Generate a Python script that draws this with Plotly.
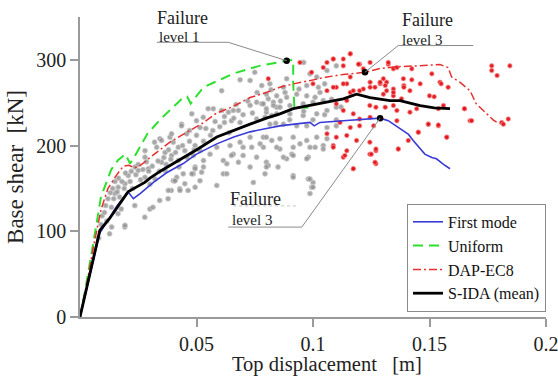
import plotly.graph_objects as go

# Pushover curves (top displacement [m], base shear [kN])
first_mode_x = [0, 0.004, 0.0085, 0.012, 0.016, 0.0206, 0.0229, 0.0258, 0.0315, 0.037, 0.0443, 0.05,
                0.0587, 0.066, 0.073, 0.08, 0.0858, 0.092, 0.0987, 0.1005, 0.103, 0.113, 0.121, 0.1288,
                0.1323, 0.1355, 0.1388, 0.141, 0.143, 0.145, 0.147, 0.148, 0.151, 0.153, 0.156, 0.1588]
first_mode_y = [0, 46, 98, 113, 130, 146, 138, 144, 157, 168, 179, 190,
                202, 210, 216, 220, 223, 225, 227, 223, 227, 229, 230.5, 232,
                229, 223, 217.6, 213, 206, 200, 194, 190, 186, 184.6, 178, 173]

uniform_x = [0, 0.002, 0.005, 0.009, 0.0134, 0.0163, 0.0195, 0.0215, 0.024, 0.029, 0.035, 0.0443,
             0.046, 0.0475, 0.0495, 0.053, 0.0658, 0.077, 0.0887, 0.0915, 0.0915, 0.092, 0.098]
uniform_y = [0, 28, 75, 140, 172, 183, 190, 179, 190, 214, 232, 256,
             257, 249, 256, 268, 284, 293, 299, 300, 272, 245, 244]

dap_x = [0, 0.003, 0.006, 0.009, 0.012, 0.0155, 0.0186, 0.021, 0.0235, 0.026, 0.03, 0.0329, 0.0386,
         0.0458, 0.052, 0.0587, 0.066, 0.073, 0.08, 0.0858, 0.0916, 0.099, 0.106, 0.113, 0.12, 0.1223,
         0.1288, 0.136, 0.145, 0.1545, 0.158, 0.1595, 0.163, 0.1674, 0.17, 0.173, 0.1773, 0.18]
dap_y = [0, 40, 85, 125, 150, 165, 176, 177, 174, 177, 186, 192, 204,
         215.6, 225, 238, 246, 256, 262, 268, 272, 276, 280, 283, 285, 285.5,
         290, 292, 293, 294.5, 291, 280, 274, 264, 249, 241, 230, 225]

sida_x = [0, 0.004, 0.0085, 0.0127, 0.0206, 0.0278, 0.03, 0.035, 0.042, 0.0506, 0.0587, 0.066, 0.073,
          0.08, 0.0858, 0.0915, 0.099, 0.106, 0.113, 0.1187, 0.1245, 0.133, 0.1373, 0.146, 0.152, 0.1588]
sida_y = [0, 48, 101, 115, 146, 157, 162, 171, 182, 196, 210, 218, 225,
          232, 237, 243, 247, 250.6, 254.5, 260, 256, 252.5, 252.5, 246.7, 244, 243]

# Failure points
fail_x = [0.0887, 0.1223, 0.1288]
fail_y = [299, 285.5, 232]

# S-IDA single-record points (before / after the 0.09 m region)
gray_x = [0.0687, 0.0608, 0.073, 0.075, 0.0572, 0.0608, 0.0637, 0.0658, 0.068, 0.055, 0.073, 0.0758,
          0.078, 0.0808, 0.083, 0.0844, 0.0529, 0.050, 0.0515, 0.047, 0.0436, 0.0458, 0.057, 0.062,
          0.065, 0.0687, 0.0758, 0.0794, 0.0823, 0.0386, 0.0343, 0.0329, 0.0365, 0.040, 0.0422, 0.0515,
          0.0587, 0.0644, 0.0687, 0.073, 0.0787, 0.0823, 0.0658, 0.070, 0.0758, 0.080, 0.063, 0.053,
          0.0486, 0.0443, 0.0415, 0.040, 0.0515, 0.0615, 0.073, 0.0794, 0.085, 0.0587,
          0.0486, 0.053, 0.0558, 0.0494, 0.0522, 0.0615, 0.065, 0.068, 0.063, 0.070, 0.0737, 0.0773,
          0.0808, 0.0744, 0.0858, 0.0909, 0.0887, 0.0944, 0.098, 0.0915, 0.098, 0.1, 0.0994, 0.0987,
          0.1009, 0.1044,
          0.0192, 0.0127, 0.0278, 0.030, 0.0313, 0.0163, 0.0177, 0.0235, 0.0342, 0.0378, 0.0392, 0.0428,
          0.0464, 0.0406, 0.030, 0.0136, 0.0193,
          0.048, 0.0436, 0.0393, 0.035, 0.032, 0.0279, 0.0279, 0.0236, 0.025, 0.0293, 0.035, 0.0393,
          0.0422, 0.045, 0.0494, 0.0365, 0.0322, 0.0279, 0.0207, 0.0193, 0.0164, 0.015, 0.0408, 0.045,
          0.048, 0.0494, 0.0429, 0.0379, 0.0494,
          0.096, 0.0987, 0.1016, 0.106, 0.110, 0.0973, 0.1023, 0.105, 0.0887, 0.0873, 0.0815, 0.080,
          0.0844, 0.0887, 0.093, 0.0973, 0.1009, 0.0787, 0.083, 0.0858, 0.0901, 0.0958, 0.100, 0.1044,
          0.106, 0.110, 0.1016, 0.0958, 0.0901, 0.0844, 0.080, 0.0815, 0.0873, 0.093, 0.0973, 0.106,
          0.110, 0.080, 0.0858, 0.0915, 0.0973, 0.1016, 0.106, 0.0787, 0.0844, 0.0915, 0.0987, 0.1044,
          0.0873, 0.0915, 0.0973, 0.080, 0.0915, 0.0987, 0.1,
          0.008, 0.009, 0.0095, 0.0105, 0.011, 0.0115, 0.012, 0.013, 0.0135, 0.014, 0.0145, 0.015,
          0.016, 0.0165, 0.017, 0.018, 0.019, 0.0195, 0.0215, 0.022, 0.0225, 0.024, 0.025, 0.026,
          0.027, 0.0285, 0.0295, 0.031, 0.0335, 0.034, 0.036, 0.037, 0.038, 0.039, 0.041, 0.0425,
          0.044, 0.046, 0.047, 0.049, 0.05, 0.053, 0.054, 0.056, 0.058, 0.06, 0.062, 0.064,
          0.066, 0.067, 0.07, 0.072, 0.074, 0.076, 0.078, 0.08, 0.082, 0.084, 0.086, 0.088,
          0.09, 0.094, 0.096, 0.1, 0.103, 0.105, 0.108, 0.11, 0.112]
gray_y = [276.7, 264, 276, 285.5, 243, 241, 239, 241, 241, 243, 247, 250.6,
          248.7, 254.5, 250.6, 244.8, 233, 229, 221, 217.6, 225, 213.7, 217.6, 227,
          229, 227, 231, 233, 235, 209.8, 208, 198, 192, 204, 198, 194,
          198, 200, 204, 209.8, 209.8, 206, 190, 188.5, 186.5, 180.6, 178.8, 175,
          167, 167, 163, 159, 159, 167, 175, 167, 175, 153.5,
          188.5, 182.6, 190, 175, 169, 182.6, 188.5, 180.6, 167, 198, 198, 202,
          176.8, 157, 196, 190, 184.6, 202, 186.5, 165, 161, 157, 151.5, 144,
          198, 200,
          105, 97, 116.5, 126, 128, 120.5, 126, 130, 136, 138, 147.7, 149.6,
          147.7, 159, 155, 105, 107,
          237, 223, 213.7, 206, 204, 194, 186.5, 175, 171, 173, 180.6, 188.5,
          182.6, 194, 200, 171, 161, 163, 165, 155.5, 151.5, 144, 159, 155.5,
          167, 151.5, 147.7, 147.7, 173,
          297, 283.7, 280, 287.5, 293, 270, 268, 272, 278, 268, 272, 260,
          258, 256.4, 260, 258, 256.4, 248.7, 246.7, 244.8, 246.7, 248.7, 250.6, 252.5,
          241, 244.8, 237, 235, 237, 237, 239, 225, 225, 223, 223, 221,
          223, 209.8, 208, 209.8, 206, 209.8, 208, 198, 198, 198, 198, 196,
          186.5, 188.5, 184.6, 175, 163, 161, 151.5,
          92, 108, 118, 122, 130, 112, 138, 145, 128, 150, 138, 158,
          146, 162, 140, 158, 150, 168, 158, 170, 150, 166, 178, 160,
          172, 181, 170, 176, 182, 170, 186, 178, 195, 184, 192, 175,
          200, 186, 205, 195, 212, 205, 220, 212, 228, 222, 234, 215,
          232, 248, 236, 252, 238, 262, 270, 243, 265, 226, 252, 262,
          230, 266, 240, 230, 262, 236, 254, 230, 245]

red_x = [0.0808, 0.1087,
         0.0944, 0.0994, 0.1044, 0.106, 0.1087, 0.116, 0.120, 0.1216, 0.113, 0.100, 0.106, 0.110,
         0.1145, 0.116, 0.120, 0.1245, 0.1288, 0.1316, 0.1145, 0.110, 0.1244, 0.127, 0.113, 0.1173,
         0.120, 0.1245, 0.1116, 0.116, 0.120, 0.126, 0.106, 0.110, 0.1145, 0.1187, 0.1087, 0.1145,
         0.1244, 0.127, 0.113, 0.1173, 0.127,
         0.1323, 0.1345, 0.1424, 0.1302, 0.1316, 0.1388, 0.1424, 0.151, 0.139, 0.146, 0.1545, 0.155,
         0.158, 0.1345, 0.1416, 0.150, 0.152, 0.1302, 0.1345, 0.138, 0.131, 0.1345, 0.136, 0.1416,
         0.1445, 0.1538, 0.156, 0.165, 0.136, 0.1674, 0.1495, 0.1538, 0.1452, 0.1574, 0.1366, 0.1767,
         0.1845, 0.1767, 0.179, 0.181, 0.1838, 0.1817,
         0.1137, 0.1173, 0.1244, 0.125, 0.1266, 0.127, 0.1366, 0.1409, 0.1452, 0.1495, 0.1538, 0.1574,
         0.165, 0.1681,
         0.1087, 0.113, 0.116, 0.1195, 0.1245, 0.1323, 0.136, 0.1288, 0.131, 0.1266, 0.1245, 0.116,
         0.113, 0.1087, 0.1173, 0.1216, 0.1345, 0.139]
red_y = [278, 200,
         297, 285.5, 291, 297, 301, 307, 295, 289.5, 293, 272, 264, 268,
         272, 262, 264, 268, 272, 264, 252.5, 248.7, 246.7, 244.8, 241, 237,
         231, 233, 227, 221, 223, 223, 213.7, 209.8, 211.8, 206, 198, 194,
         190, 194, 186.5, 173, 178.8,
         295, 289.5, 289.5, 278, 274, 278, 276.7, 283.7, 270, 272, 274, 272,
         268, 266, 264, 258, 257, 260, 258, 254.5, 244.8, 246.7, 241, 239,
         243, 243, 246.7, 243, 229, 229, 225, 223, 215.6, 209.8, 196, 293,
         293, 287.5, 281.7, 227, 231, 225,
         188.5, 173, 204, 190, 180.6, 196, 196, 206, 215.6, 225, 224, 209.8,
         243, 229,
         301, 301, 307, 295, 297, 297, 291, 274, 270, 268, 274, 280,
         272, 268, 264, 266, 262, 268]

SERIF = "Liberation Serif, Times New Roman, serif"

fig = go.Figure()

fig.add_trace(go.Scatter(
    x=gray_x, y=gray_y, mode="markers", showlegend=False, hoverinfo="skip",
    marker=dict(size=5, color="rgba(145,145,145,0.8)",
                line=dict(width=1, color="rgba(205,205,205,0.8)"))))
fig.add_trace(go.Scatter(
    x=red_x, y=red_y, mode="markers", showlegend=False, hoverinfo="skip",
    marker=dict(size=4.5, color="rgba(225,20,25,0.95)",
                line=dict(width=1, color="rgba(248,150,150,0.75)"))))

fig.add_trace(go.Scatter(x=first_mode_x, y=first_mode_y, mode="lines", name="First mode",
                         line=dict(color="#3a3ad8", width=1.6)))
fig.add_trace(go.Scatter(x=uniform_x, y=uniform_y, mode="lines", name="Uniform",
                         line=dict(color="#2ee02e", width=2, dash="10px,6px")))
fig.add_trace(go.Scatter(x=dap_x, y=dap_y, mode="lines", name="DAP-EC8",
                         line=dict(color="#e63030", width=1.5, dash="8px,3px,2px,3px")))
fig.add_trace(go.Scatter(x=sida_x, y=sida_y, mode="lines", name="S-IDA (mean)",
                         line=dict(color="#000000", width=2.8)))

fig.add_trace(go.Scatter(x=fail_x, y=fail_y, mode="markers", showlegend=False, hoverinfo="skip",
                         marker=dict(size=6.5, color="#000000")))

# Leader lines for the failure labels
leader = dict(color="#8a8a8a", width=1)
shapes = [
    dict(type="line", x0=0.033, y0=320.5, x1=0.0636, y1=320.5, line=leader),
    dict(type="line", x0=0.0636, y0=320.5, x1=fail_x[0], y1=fail_y[0], line=leader),
    dict(type="line", x0=0.1366, y0=316.7, x1=0.1688, y1=316.7, line=leader),
    dict(type="line", x0=0.1366, y0=316.7, x1=fail_x[1], y1=fail_y[1], line=leader),
    dict(type="line", x0=0.0636, y0=104.9, x1=0.0952, y1=104.9, line=leader),
    dict(type="line", x0=0.0952, y0=104.9, x1=fail_x[2], y1=fail_y[2], line=leader),
    dict(type="line", x0=0.0657, y0=129.6, x1=0.0931, y1=129.6,
         line=dict(color="#c4c4c4", width=1, dash="dot")),
]
for s in shapes:
    s.update(xref="x", yref="y", layer="above")

txt = dict(family=SERIF, color="#222222")
annotations = [
    dict(x=0.0322, y=349, text="Failure", font=dict(size=18, **txt)),
    dict(x=0.0330, y=327, text="level 1", font=dict(size=15, **txt)),
    dict(x=0.1373, y=346, text="Failure", font=dict(size=18, **txt)),
    dict(x=0.1373, y=323.5, text="level 3", font=dict(size=15, **txt)),
    dict(x=0.0635, y=138, text="Failure", font=dict(size=18, **txt)),
    dict(x=0.0644, y=113, text="level 3", font=dict(size=15, **txt)),
]
for a in annotations:
    a.update(xref="x", yref="y", xanchor="left", yanchor="middle", showarrow=False)

# x-axis title placed as paper annotation
annotations.append(dict(x=0.53, y=-0.157, xref="paper", yref="paper", xanchor="center",
                        yanchor="middle", showarrow=False,
                        text="Top displacement\u00a0\u00a0\u00a0[m]",
                        font=dict(size=20.5, family=SERIF, color="#222222")))

fig.update_layout(
    width=558, height=381,
    margin=dict(l=80, r=12, t=17, b=64),
    paper_bgcolor="white", plot_bgcolor="white",
    font=dict(family=SERIF, size=19, color="#222222"),
    shapes=shapes, annotations=annotations,
    legend=dict(x=1.0, xanchor="right", y=0.017, yanchor="bottom",
                bordercolor="#8a8a8a", borderwidth=1, bgcolor="white",
                font=dict(family=SERIF, size=16, color="#111111"),
                tracegroupgap=0),
)
fig.update_xaxes(range=[0, 0.2], tickvals=[0.05, 0.1, 0.15, 0.2], ticktext=["0.05", "0.1", "0.15", "0.2"],
                 showgrid=False, zeroline=False, showline=True, linecolor="#9a9a9a", linewidth=1.5,
                 ticks="outside", ticklen=8, tickcolor="#9a9a9a", tickwidth=1.5, automargin=False,
                 tickfont=dict(size=20), ticklabeloverflow="allow")
fig.update_yaxes(range=[0, 350], tickvals=[0, 100, 200, 300],
                 showgrid=False, zeroline=False, showline=True, linecolor="#9a9a9a", linewidth=1.5,
                 ticks="outside", ticklen=8, tickcolor="#9a9a9a", tickwidth=1.5, automargin=False,
                 tickfont=dict(size=20),
                 title=dict(text="Base shear\u00a0\u00a0[kN]", standoff=6))

fig.write_html("out.html")
